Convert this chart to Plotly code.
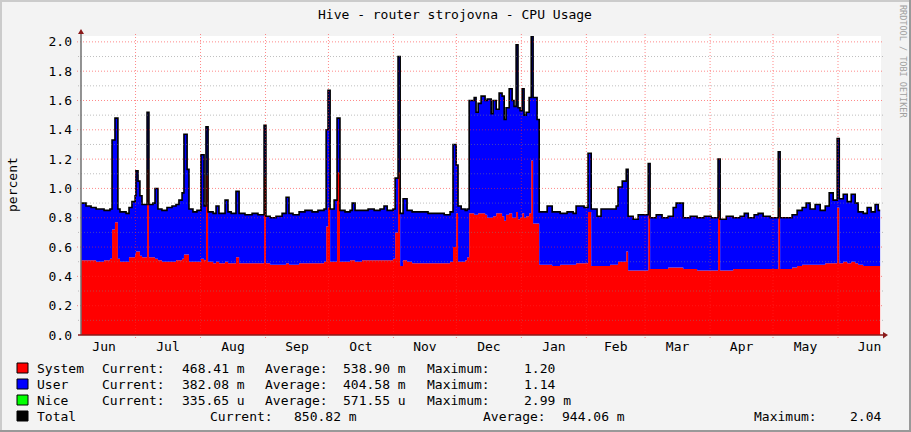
import pandas as pd
import plotly.graph_objects as go

# ---------------- data ----------------
start = pd.Timestamp("2012-06-05")
days = [0, 2.4, 4.8, 7.2, 11.0, 13.8, 14.8, 16.2, 17.6, 18.6, 21.5, 22.9, 24.3, 25.8, 26.2, 27.2, 28.1, 29.1,
        31.5, 32.4, 34.3, 35.3, 36.7, 38.6, 41.0, 43.4, 45.3, 46.7, 48.2, 49.1, 50.6, 51.5, 53.4, 55.3,
        57.2, 58.7, 59.6, 60.6, 63.0, 64.4, 65.8, 68.7, 70.1, 71.6, 73.9, 75.4, 78.2, 81.6, 84.4,
        87.3, 88.2, 90.2, 93.0, 95.9, 97.8, 99.2, 101.1, 104.0, 106.8, 110.2, 113.0, 115.9, 116.9,
        117.8, 118.8, 120.7, 122.1, 123.5, 125.9, 128.3, 129.3, 130.7, 134.0, 136.9, 139.8, 142.6,
        144.5, 146.0, 148.8, 149.8, 151.2, 152.2, 153.6, 155.5, 157.9, 161.7, 165.5, 169.3, 173.2,
        176.0, 177.4, 178.9, 179.8, 181.3, 183.2, 184.1, 185.1, 187.5, 188.4, 189.4, 190.8, 192.7,
        193.7, 195.6, 196.5, 198.0, 199.4, 200.8, 201.8, 202.7, 204.2, 205.6, 206.5, 207.5, 208.4,
        209.4, 210.4, 211.3, 212.3, 213.7, 214.7, 215.6, 217.5, 218.5, 222.3, 224.7, 228.5, 231.8,
        234.7, 236.1, 239.9, 241.8, 243.3, 246.1, 248.0, 252.3, 255.2, 256.1, 258.1, 260.0, 260.9,
        263.3, 265.7, 270.5, 271.4, 274.3, 277.1, 280.0, 282.4, 283.8, 287.2, 290.5, 293.8, 297.2,
        300.5, 303.8, 304.8, 307.7, 311.0, 314.3, 316.3, 318.2, 321.0, 322.9, 325.3, 328.7, 332.5,
        333.4, 336.3, 339.1, 341.5, 343.9, 345.8, 347.7, 350.1, 352.5, 354.9, 356.8, 358.7, 360.6,
        361.6, 363.5, 365.4, 367.3, 369.2, 370.6, 373.0, 374.9, 376.8, 378.7, 380.2, 381.1]

system = [.51, .51, .51, .50, .51, .52, .72, .77, .52, .50, .50, .53, .53, .55, .57, .57, .54, .53,
          1.13, .53, .53, .52, .51, .50, .50, .50, .51, .51, .52, .55, .55, .50, .50, .50,
          .52, .51, 1.09, .50, .49, .50, .49, .50, .49, .49, .53, .49, .49, .49, .49,
          1.08, .49, .48, .48, .48, .49, .48, .48, .49, .49, .49, .49, .50, .74,
          .87, .50, .50, 1.11, .50, .50, .51, .51, .50, .51, .51, .51, .51,
          .51, .51, .52, .70, 1.11, .47, .51, .50, .49, .49, .49, .49, .49,
          .50, .60, .83, .50, .50, .51, .53, .83, .82, .82, .83, .83, .82,
          .80, .80, .81, .83, .83, .81, .78, .82, .83, .80, .80, .84, .79,
          .80, .83, .80, .81, .83, 1.19, .76, .76, .48, .48, .47, .48, .48,
          .48, .49, .49, .84, .47, .47, .47, .48, .48, .50, .50, .57, .44,
          .44, .44, .85, .45, .45, .45, .46, .46, .46, .45, .45, .44, .44,
          .44, .85, .44, .44, .45, .45, .45, .45, .45, .45, .45, .45, .87,
          .45, .45, .46, .47, .48, .48, .48, .48, .48, .49, .49, .49, .87,
          .49, .50, .49, .50, .49, .48, .47, .47, .47, .47, .47, .468]

user = [.39, .37, .36, .36, .34, .34, .61, .71, .34, .34, .33, .34, .38, .40, .55, .48, .41, .36,
        .39, .36, .37, .48, .35, .35, .37, .38, .38, .41, .45, .82, .58, .36, .34, .35,
        .71, .37, .33, .34, .34, .38, .34, .42, .35, .34, .45, .34, .33, .34, .33,
        .35, .32, .32, .33, .35, .45, .35, .34, .35, .36, .35, .36, .36, .66,
        .80, .36, .42, .37, .35, .34, .34, .39, .35, .34, .35, .34, .35,
        .37, .34, .34, .37, .79, .36, .42, .35, .35, .35, .34, .34, .33,
        .34, .70, .33, .38, .36, .34, .33, .77, .80, .70, .75, .80, .78,
        .81, .71, .79, .71, .82, .82, .69, .73, .85, .80, .76, 1.14, .76,
        .73, .85, .70, .71, .79, .85, .86, .71, .36, .40, .37, .35, .36,
        .35, .39, .38, .40, .39, .34, .39, .38, .40, .51, .55, .56, .37,
        .35, .38, .32, .35, .37, .35, .35, .41, .44, .35, .36, .36, .37,
        .36, .35, .35, .37, .35, .36, .38, .35, .37, .38, .36, .35, .38,
        .35, .35, .36, .38, .39, .42, .38, .41, .37, .39, .48, .43, .47,
        .44, .46, .42, .46, .41, .36, .36, .40, .37, .42, .38, .382]

series_names = ["System", "User", "Nice"]
series_colors = ["#FF0000", "#0000FF", "#00FF00"]
current_vals = ["468.41 m", "382.08 m", "335.65 u"]
average_vals = ["538.90 m", "404.58 m", "571.55 u"]
maximum_vals = ["1.20", "1.14", "2.99 m"]
total_stats = ["850.82 m", "944.06 m", "2.04"]

month_labels = ["Jun", "Jul", "Aug", "Sep", "Oct", "Nov", "Dec", "Jan", "Feb", "Mar", "Apr", "May", "Jun"]
y_ticks = [0.0, 0.2, 0.4, 0.6, 0.8, 1.0, 1.2, 1.4, 1.6, 1.8, 2.0]
y_minor = [0.1, 0.3, 0.5, 0.7, 0.9, 1.1, 1.3, 1.5, 1.7, 1.9]

# ---------------- derived ----------------
x = [start + pd.to_timedelta(d, unit="D") for d in days]
total = [round(s + u, 3) for s, u in zip(system, user)]
x_end = start + pd.to_timedelta(381.5, unit="D")

month_starts = pd.date_range("2012-06-01", "2013-07-01", freq="MS")
mids = [month_starts[i] + (month_starts[i + 1] - month_starts[i]) / 2 for i in range(len(month_starts) - 1)]
grid_months = [m for m in month_starts if start < m < x_end]

# geometry helpers (plot area: l=81, t=36, w=800, h=299)
L, T, W, H = 81, 36, 800, 299
B = T + H


def px(xp):
    return (xp - L) / W


def py(yp):
    return (B - yp) / H


FONT = "DejaVu Sans Mono"
fig = go.Figure()
fig.add_trace(go.Scatter(x=x, y=system, mode="lines", stackgroup="s", line=dict(width=0, shape="hv"),
                         fillcolor="#FF0000", hoverinfo="skip"))
fig.add_trace(go.Scatter(x=x, y=user, mode="lines", stackgroup="s", line=dict(width=0, shape="hv"),
                         fillcolor="#0000FF", hoverinfo="skip"))
fig.add_trace(go.Scatter(x=x, y=total, mode="lines", line=dict(color="#000000", width=1.6, shape="hv"),
                         hoverinfo="skip"))

shapes = []
dot = "1px,2px"
for v in y_minor:
    shapes.append(dict(type="line", xref="paper", yref="y", x0=px(78), x1=px(883), y0=v, y1=v,
                       line=dict(color="rgba(128,128,128,0.5)", width=1, dash=dot), layer="above"))
for v in y_ticks[1:]:
    shapes.append(dict(type="line", xref="paper", yref="y", x0=px(77), x1=px(883), y0=v, y1=v,
                       line=dict(color="rgba(255,40,40,0.55)", width=1, dash=dot), layer="above"))
for m in grid_months:
    shapes.append(dict(type="line", xref="x", yref="paper", x0=m, x1=m, y0=py(338), y1=py(33),
                       line=dict(color="rgba(255,40,40,0.55)", width=1, dash=dot), layer="above"))
# axes
shapes.append(dict(type="line", xref="paper", yref="paper", x0=0, x1=0, y0=0, y1=py(33),
                   line=dict(color="#707070", width=1.5), layer="above"))
shapes.append(dict(type="line", xref="paper", yref="paper", x0=px(78), x1=px(884), y0=0, y1=0,
                   line=dict(color="#8B1A1A", width=1.5), layer="above"))
shapes.append(dict(type="path", xref="paper", yref="paper",
                   path=f"M {px(78)},{py(34)} L {px(84)},{py(34)} L {px(81)},{py(29)} Z",
                   fillcolor="#8B1A1A", line=dict(width=0), layer="above"))
shapes.append(dict(type="path", xref="paper", yref="paper",
                   path=f"M {px(883)},{py(332)} L {px(883)},{py(338.5)} L {px(888)},{py(335)} Z",
                   fillcolor="#8B1A1A", line=dict(width=0), layer="above"))
# outer 3D border
shapes.append(dict(type="line", xref="paper", yref="paper", x0=px(0), x1=px(911), y0=py(1), y1=py(1),
                   line=dict(color="#CBCBCB", width=2)))
shapes.append(dict(type="line", xref="paper", yref="paper", x0=px(1), x1=px(1), y0=py(0), y1=py(432),
                   line=dict(color="#CBCBCB", width=2)))
shapes.append(dict(type="line", xref="paper", yref="paper", x0=px(0), x1=px(911), y0=py(431), y1=py(431),
                   line=dict(color="#999999", width=2)))
shapes.append(dict(type="line", xref="paper", yref="paper", x0=px(910), x1=px(910), y0=py(0), y1=py(432),
                   line=dict(color="#999999", width=2)))

annotations = []


def txt(s, xp, yp, anchor="left", size=13, color="#000000", angle=0):
    annotations.append(dict(text=s, xref="paper", yref="paper", x=px(xp), y=py(yp), xanchor=anchor,
                            yanchor="middle", showarrow=False, textangle=angle,
                            font=dict(family=FONT, size=size, color=color)))


txt("Hive - router strojovna - CPU Usage", 455, 14, anchor="center")
txt("percent", 12, 185, anchor="center", angle=-90)
txt("RRDTOOL / TOBI OETIKER", 903, 61, anchor="center", size=8.5, color="#A0A0A0", angle=90)

row_y = [368, 384, 400]
for i, name in enumerate(series_names):
    yc = row_y[i]
    shapes.append(dict(type="rect", xref="paper", yref="paper", x0=px(17), x1=px(28), y0=py(yc - 5), y1=py(yc + 5),
                       fillcolor=series_colors[i], line=dict(color="#000000", width=1)))
    txt(name, 35, yc)
    txt("Current:", 100, yc)
    txt(current_vals[i], 180, yc)
    txt("Average:", 263, yc)
    txt(average_vals[i], 341, yc)
    txt("Maximum:", 425, yc)
    txt(maximum_vals[i], 522, yc)
yt = 416
shapes.append(dict(type="rect", xref="paper", yref="paper", x0=px(17), x1=px(28), y0=py(yt - 5), y1=py(yt + 5),
                   fillcolor="#000000", line=dict(color="#000000", width=1)))
txt("Total", 35, yt)
txt("Current:", 208, yt)
txt(total_stats[0], 292, yt)
txt("Average:", 481, yt)
txt(total_stats[1], 560, yt)
txt("Maximum:", 752, yt)
txt(total_stats[2], 848, yt)

fig.update_layout(
    width=911, height=432,
    margin=dict(l=L, r=911 - L - W, t=T, b=432 - B, pad=0),
    paper_bgcolor="#F3F3F3", plot_bgcolor="#FFFFFF",
    showlegend=False,
    font=dict(family=FONT, size=13, color="#000000"),
    shapes=shapes, annotations=annotations,
    xaxis=dict(type="date", range=[start, x_end], tickmode="array", tickvals=mids, ticktext=month_labels,
               showgrid=False, zeroline=False, showline=False, ticks="", ticklabelstandoff=2,
               tickfont=dict(family=FONT, size=13), fixedrange=True),
    yaxis=dict(range=[0, 2.04], tickmode="array", tickvals=y_ticks, tickformat=".1f",
               showgrid=False, zeroline=False, showline=False, ticks="", ticklabelstandoff=8,
               tickfont=dict(family=FONT, size=13), fixedrange=True),
)

fig.write_html("out.html", config={"displayModeBar": False, "staticPlot": True},
               post_script="document.body.style.margin='0';document.body.style.padding='0';")
